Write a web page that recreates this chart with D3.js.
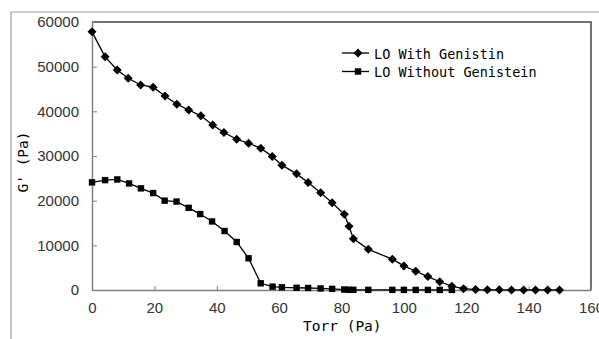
<!DOCTYPE html>
<html>
<head>
<meta charset="utf-8">
<script src="https://cdn.jsdelivr.net/npm/d3@7"></script>
<style>
body { margin: 0; background: #fff; }
.tick text { font-family: "Liberation Sans", Arial, sans-serif; font-size: 15px; fill: #333; }
</style>
</head>
<body>
<div id="chart"><svg width="599" height="339"></svg></div>
<script>
// LO with genistin (diamonds)
var torrWith = [0, 4.2, 8.1, 11.6, 15.6, 19.6, 23.4, 27.2, 31.0, 34.9, 38.7, 42.3, 46.4, 50.2, 54.1, 57.8, 60.9, 65.6, 69.3, 73.3, 77.0, 80.9, 82.4, 83.8, 88.6, 96.3, 100.0, 103.8, 107.7, 111.5, 115.4, 119.1, 123.0, 126.8, 130.6, 134.5, 138.4, 142.2, 146.1, 149.9];
var gWith = [57800, 52200, 49250, 47400, 45900, 45400, 43450, 41600, 40300, 39000, 36950, 35250, 33750, 32850, 31750, 29900, 27950, 26000, 24050, 21800, 19550, 16950, 14250, 11500, 9100, 6900, 5400, 4200, 3000, 1850, 850, 300, 100, 50, 30, 20, 10, 10, 10, 10];
// LO without genistein (squares)
var torrWithout = [0, 4.2, 8.1, 11.9, 15.7, 19.6, 23.3, 27.1, 31.0, 34.7, 38.5, 42.5, 46.4, 50.2, 54.1, 57.9, 60.9, 65.6, 69.3, 73.3, 77.0, 80.9, 82.4, 83.8, 88.6, 96.3, 100.0, 103.8, 107.7, 111.5, 115.4];
var gWithout = [24100, 24600, 24750, 23850, 22750, 21700, 20000, 19800, 18400, 17000, 15350, 13200, 10750, 7100, 1500, 750, 600, 500, 450, 350, 250, 100, 50, 50, 30, 30, 20, 20, 20, 20, 20];
var seriesNames = ["LO With Genistin", "LO Without Genistein"];
var xTicks = [0, 20, 40, 60, 80, 100, 120, 140, 160];
var yTicks = [0, 10000, 20000, 30000, 40000, 50000, 60000];

var svg = d3.select("#chart").select("svg");
var L = 92, R = 591, T = 22, B = 290;
var x = d3.scaleLinear().domain([0, 160]).range([L, R]);
var y = d3.scaleLinear().domain([0, 60000]).range([B, T]);

// outer frame
svg.append("path").attr("d", "M11,339V12H599").attr("fill", "none").attr("stroke", "#a0a0a0").attr("stroke-width", 1.2);

// plot border top/right
svg.append("path").attr("d", "M" + L + "," + T + "H" + R + "V" + B).attr("fill", "none").attr("stroke", "#444").attr("stroke-width", 1.5);

var xAxis = svg.append("g").attr("transform", "translate(0," + B + ")")
 .call(d3.axisBottom(x).tickValues(xTicks).tickSizeInner(-4).tickSizeOuter(0).tickPadding(12));
var yAxis = svg.append("g").attr("transform", "translate(" + L + ",0)")
 .call(d3.axisLeft(y).tickValues(yTicks).tickSizeInner(-5).tickSizeOuter(0).tickPadding(13).tickFormat(d3.format("d")));
svg.selectAll(".domain").attr("stroke", "#808080").attr("stroke-width", 1.5);
svg.selectAll(".tick line").attr("stroke", "#808080");

var line = d3.line().x(function(d) { return x(d[0]); }).y(function(d) { return y(d[1]); });
var dataWith = torrWith.map(function(t, i) { return [t, gWith[i]]; });
var dataWithout = torrWithout.map(function(t, i) { return [t, gWithout[i]]; });

var diamond = "M0,-4.5L4.5,0L0,4.5L-4.5,0Z";
var square = "M-3.2,-3.2H3.2V3.2H-3.2Z";

function drawSeries(data, shape) {
 svg.append("path").datum(data).attr("d", line).attr("fill", "none").attr("stroke", "#000").attr("stroke-width", 1.3);
 svg.append("g").selectAll("path").data(data).enter().append("path")
  .attr("d", shape)
  .attr("transform", function(d) { return "translate(" + x(d[0]) + "," + y(d[1]) + ")"; })
  .attr("fill", "#000");
}
drawSeries(dataWithout, square);
drawSeries(dataWith, diamond);

// legend
var lg = svg.append("g").attr("font-family", "'DejaVu Sans Mono', monospace").attr("font-size", "13.5px");
[diamond, square].forEach(function(shape, i) {
 var ly = 53 + i * 18.5;
 lg.append("line").attr("x1", 342).attr("x2", 369).attr("y1", ly).attr("y2", ly).attr("stroke", "#000").attr("stroke-width", 1.3);
 lg.append("path").attr("d", shape).attr("transform", "translate(358," + ly + ")");
 lg.append("text").attr("x", 374).attr("y", ly + 5.5).text(seriesNames[i]);
});

// axis titles
svg.append("text").attr("x", 303).attr("y", 331).attr("font-family", "'DejaVu Sans Mono', monospace").attr("font-size", "14.5px").text("Torr (Pa)");
svg.append("text").attr("transform", "translate(28,162) rotate(-90)").attr("text-anchor", "middle")
 .attr("font-family", "'DejaVu Sans Mono', monospace").attr("font-size", "14.5px").text("G' (Pa)");
</script>
</body>
</html>
